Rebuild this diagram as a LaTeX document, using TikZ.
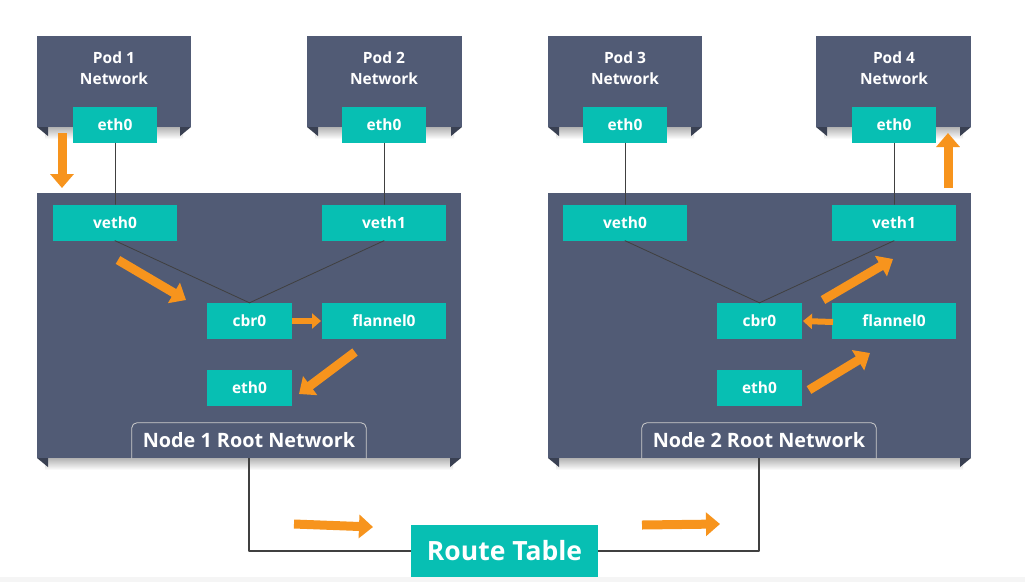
\documentclass[tikz,border=0pt]{standalone}
\usepackage{fontspec}
\setmainfont{Open Sans}
\usepackage{tikz}
\usetikzlibrary{arrows.meta}
\definecolor{slate}{HTML}{515B75}
\definecolor{ifteal}{HTML}{07BFB3}
\definecolor{flow}{HTML}{F7941D}
\newcommand{\NetBox}[4]{%
  \shade[top color=black!30,bottom color=white] (#1+8,#4) rectangle (#3-8,#4+12);
  \fill[slate] (#1,#2) rectangle (#3,#4);
  \fill[slate!70!black] (#1,#4) -- (#1+11,#4) -- (#1+11,#4+9) -- cycle;
  \fill[slate!70!black] (#3,#4) -- (#3-11,#4) -- (#3-11,#4+9) -- cycle;
}

\begin{document}
\begin{tikzpicture}[line cap=round,line join=round,x=1pt,y=-1pt,
  iface/.style={fill=ifteal,text=white,inner sep=0pt,minimum height=36pt,
    font=\bfseries\fontsize{15.5}{17}\selectfont},
  podtext/.style={text=white,align=center,font=\bfseries\fontsize{15.5}{21}\selectfont},
  rootlbl/.style={text=white,inner sep=0pt,minimum width=234pt,minimum height=35pt,
    font=\bfseries\fontsize{19.8}{22}\selectfont},
  link/.style={draw=black!75,line width=0.8pt},
  flowarrow/.style={draw=flow,line width=9pt,line cap=butt,
    -{Triangle[length=14pt,width=23pt]}},
  smallflow/.style={draw=flow,line width=6pt,line cap=butt,
    -{Triangle[length=9pt,width=15pt]}}]
  \useasboundingbox (0,0) rectangle (1025,582);
  \fill[white] (0,0) rectangle (1025,582);
  % boxes
  \NetBox{37}{36}{191}{127}
  \NetBox{307}{36}{462}{127}
  \NetBox{548}{36}{702}{127}
  \NetBox{816}{36}{971}{127}
  \NetBox{37}{193}{461}{458}
  \NetBox{548}{193}{971}{458}
  % pods
  \node[podtext] (pod1) at (114,68) {Pod 1\\Network};
  \node[podtext] (pod2) at (384,68) {Pod 2\\Network};
  \node[podtext] (pod3) at (625,68) {Pod 3\\Network};
  \node[podtext] (pod4) at (894,68) {Pod 4\\Network};
  \node[iface,minimum width=84pt] (p1eth) at (115,125) {eth0};
  \node[iface,minimum width=84pt] (p2eth) at (384,125) {eth0};
  \node[iface,minimum width=84pt] (p3eth) at (625,125) {eth0};
  \node[iface,minimum width=84pt] (p4eth) at (894,125) {eth0};
  % node 1
  \node[iface,minimum width=124pt] (n1veth0) at (115,222.5) {veth0};
  \node[iface,minimum width=124pt] (n1veth1) at (384,222.5) {veth1};
  \node[iface,minimum width=85pt] (n1cbr) at (249.5,321) {cbr0};
  \node[iface,minimum width=124pt] (n1flan) at (384,321) {flannel0};
  \node[iface,minimum width=85pt] (n1eth) at (249.5,387.5) {eth0};
  \node[rootlbl] (n1root) at (249,440.5) {Node 1 Root Network};
  \draw[draw=black!20,line width=0.8pt,rounded corners=5pt]
    (n1root.south west) -- (n1root.north west) -- (n1root.north east) -- (n1root.south east);
  % node 2
  \node[iface,minimum width=124pt] (n2veth0) at (625,222.5) {veth0};
  \node[iface,minimum width=124pt] (n2veth1) at (894,222.5) {veth1};
  \node[iface,minimum width=85pt] (n2cbr) at (759.5,321) {cbr0};
  \node[iface,minimum width=124pt] (n2flan) at (894,321) {flannel0};
  \node[iface,minimum width=85pt] (n2eth) at (759.5,387.5) {eth0};
  \node[rootlbl] (n2root) at (759,440.5) {Node 2 Root Network};
  \draw[draw=black!20,line width=0.8pt,rounded corners=5pt]
    (n2root.south west) -- (n2root.north west) -- (n2root.north east) -- (n2root.south east);
  % route table
  \fill[black!4] (0,577) rectangle (1025,582);
  \node[fill=ifteal,text=white,inner sep=0pt,minimum width=187pt,minimum height=52pt,
    font=\bfseries\fontsize{26.5}{28}\selectfont] (rt) at (504.5,551) {Route Table};
  % links
  \draw[link] (p1eth) -- (n1veth0);
  \draw[link] (p2eth) -- (n1veth1);
  \draw[link] (p3eth) -- (n2veth0);
  \draw[link] (p4eth) -- (n2veth1);
  \draw[link] (n1veth0.south) -- (n1cbr.north);
  \draw[link] (n1veth1.south) -- (n1cbr.north);
  \draw[link] (n2veth0.south) -- (n2cbr.north);
  \draw[link] (n2veth1.south) -- (n2cbr.north);
  \draw[link,line width=1.2pt,line cap=butt] (n1root.south) |- (rt.west);
  \draw[link,line width=1.2pt,line cap=butt] (rt.east) -| (n2root.south);
  % traffic
  \draw[flowarrow] (62,133) -- (62,188);
  \draw[flowarrow] (118,260) -- (186,300);
  \draw[smallflow] (292,321) -- (321,321);
  \draw[flowarrow] (355,352) -- (299,394);
  \draw[flowarrow] (294,524) -- (373,527);
  \draw[flowarrow] (642,525) -- (720,524);
  \draw[flowarrow] (809,390) -- (870,353);
  \draw[smallflow] (833,322) -- (803,321);
  \draw[flowarrow] (823,300) -- (893,259);
  \draw[flowarrow] (948,188) -- (948,133);
\end{tikzpicture}
\end{document}
